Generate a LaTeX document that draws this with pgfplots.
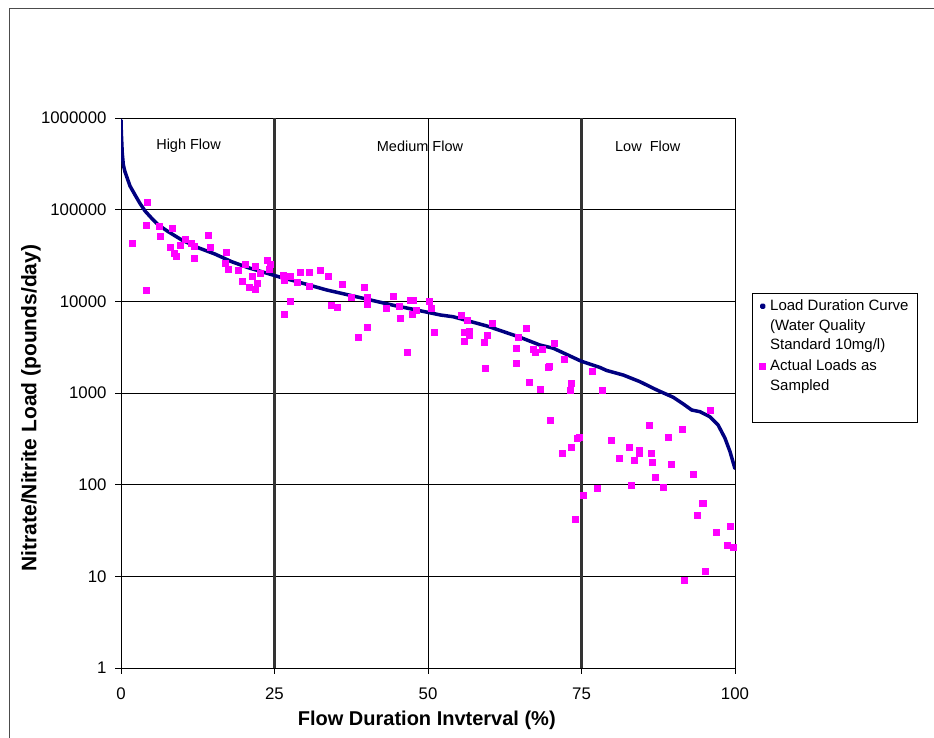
\documentclass[border=0pt]{standalone}
\usepackage{pgfplots}
\pgfplotsset{compat=1.18}
\usepackage{fontspec}
\setmainfont{Liberation Sans}
\definecolor{ldcnavy}{HTML}{000080}
\definecolor{ldcmag}{HTML}{FF00FF}
\begin{document}
\begin{tikzpicture}[x=1pt,y=1pt]
\useasboundingbox (0,0) rectangle (934,738);
\begin{axis}[
  at={(121pt,70pt)}, anchor=south west, scale only axis,
  width=614pt, height=550pt,
  xmin=0, xmax=100, ymin=1, ymax=1000000, ymode=log,
  xtick={0,25,50,75,100}, xticklabels={0,25,50,75,100},
  ytick={1,10,100,1000,10000,100000,1000000},
  yticklabels={1,10,100,1000,10000,100000,1000000},
  xminorticks=false, yminorticks=false,
  /pgf/number format/assume math mode=true,
  ticklabel style={font=\fontsize{16.8}{19}\selectfont},
  xticklabel style={yshift=-10pt},
  yticklabel style={xshift=-5pt},
  tick align=outside, tick pos=left, major tick length=6pt,
  tick style={black, line width=0.8pt},
  axis line style={black, line width=0.8pt},
  xmajorgrids, ymajorgrids,
  grid style={black, line width=0.7pt},
  every axis x label/.style={at={(axis description cs:0.498,-0.0945)}, anchor=center,
     font=\fontsize{20}{24}\selectfont\bfseries},
  every axis y label/.style={at={(axis description cs:-0.1466,0.4727)}, anchor=center, rotate=90,
     font=\fontsize{21}{25}\selectfont\bfseries},
  xlabel={Flow Duration Invterval (\%)},
  ylabel={Nitrate/Nitrite Load (pounds/day)},
  legend cell align=left,
  legend style={at={(axis description cs:1.0277,0.6824)}, anchor=north west,
     draw=black, line width=0.8pt, fill=white,
     font=\fontsize{15}{19.3}\selectfont,
     cells={align=left}, row sep=5pt, column sep=2pt, inner xsep=7pt, inner ysep=5pt},
]
\draw[black!80, line width=2.4pt] (axis cs:25,1) -- (axis cs:25,1000000);
\draw[black!80, line width=2.4pt] (axis cs:75,1) -- (axis cs:75,1000000);
\node[font=\fontsize{14.5}{17}\selectfont] at (axis description cs:0.11,0.949) {High Flow};
\node[font=\fontsize{14.5}{17}\selectfont] at (axis description cs:0.487,0.949) {Medium Flow};
\node[font=\fontsize{14.5}{17}\selectfont] at (axis description cs:0.858,0.949) {Low\ \ Flow};

\addplot[ldcnavy, line width=3.5pt, line join=round, line cap=round,
  legend image code/.code={\fill[ldcnavy] (0pt,19.3pt) circle (1.4pt);}]
coordinates {
(0,950000) (0.05,700000) (0.2,420000) (0.38,307000) (0.65,259000) (0.93,229000)
(1.47,181000) (2.28,145000) (3.09,117000) (3.9,97000) (5.0,80500) (6.1,68000)
(7.7,57500) (9.9,46700) (12.6,38400) (15.3,32800) (18.0,27100) (20.7,23300)
(23.5,20500) (26.2,18100) (28.1,16800) (33.5,13300) (38.9,11000) (44.4,9040)
(48.7,7900) (52.0,7100) (54.1,6790) (59.6,5380) (65.0,4050) (68.2,3340)
(70.4,3080) (74.9,2230) (78.0,1900) (79.1,1760) (81.8,1570) (84.5,1330)
(87.25,1080) (89.95,897) (91.6,757) (92.95,652) (94.3,625) (95.9,551)
(97.25,447) (98.37,321) (99.19,229) (99.9,157) (100,150)
};
\addlegendentry{Load Duration Curve\\(Water Quality\\Standard 10mg/l)}

\addplot[only marks, mark=square*, mark size=3pt,
  mark options={draw=ldcmag, fill=ldcmag},
  legend image code/.code={\fill[ldcmag] (-3pt,6.65pt) rectangle (3pt,12.65pt);}]
coordinates {
(1.79,43000) (4.28,120000) (4.07,68000) (6.14,65200) (6.4,51200) (8.42,63500)
(8.03,38800) (8.68,33400) (8.91,31200) (4.07,13300) (10.47,47800) (9.66,41100)
(11.45,43000) (11.94,39800) (11.89,29200) (14.22,52900) (14.45,38800) (17.21,34500)
(16.94,26000) (17.48,22500) (19.06,21800) (20.2,25100) (21.82,24300) (21.29,18900)
(19.71,16400) (20.9,14300) (21.82,13700) (22.26,15700) (22.75,20400) (23.89,28000)
(24.32,25700) (24.1,22500) (26.38,19500) (27.57,19000) (26.66,17000) (27.57,10000)
(26.6,7280) (28.71,16200) (29.2,21000) (30.57,21000) (30.57,14700) (32.41,21800)
(33.76,18900) (36.1,15300) (34.25,8960) (35.13,8670) (37.41,11100) (39.53,14200)
(40.02,11100) (40.02,9290) (40.02,5250) (38.6,4110) (43.21,8400) (44.41,11400)
(45.33,8740) (45.49,6530) (47.12,10300) (47.67,10300) (47.35,7220) (48.05,8040)
(46.69,2780) (50.16,10000) (50.6,8350) (51.03,4590) (55.42,6970) (56.35,6250)
(60.47,5840) (55.86,4590) (56.79,4740) (56.79,4260) (55.86,3690) (59.56,4260)
(59.12,3570) (59.33,1870) (66.01,5080) (64.61,4080) (64.38,3100) (64.38,2090)
(67.15,3000) (67.38,2780) (68.57,3000) (70.6,3450) (72.23,2330) (69.54,1910)
(69.7,1950) (66.45,1320) (68.29,1110) (73.4,1280) (73.18,1070) (69.92,504)
(74.35,319) (74.7,329) (71.8,223) (73.4,258) (76.82,1750) (75.24,77)
(77.52,91) (73.9,42) (78.45,1070) (79.8,307) (81.22,194) (82.78,258)
(83.55,187) (84.41,237) (84.41,221) (83.06,98) (86.04,440) (86.32,223)
(86.53,174) (86.97,122) (88.36,95) (89.04,331) (89.53,168) (91.37,407)
(93.19,131) (95.93,648) (94.66,62) (94.9,62) (93.86,47) (96.9,30)
(99.19,35) (98.7,22) (99.67,21) (95.07,11.3) (91.8,9.1)
};
\addlegendentry{Actual Loads as\\Sampled}
\addlegendimage{empty legend}
\addlegendentry{\strut}
\end{axis}
\draw[black!70, line width=0.8pt] (9,-20) -- (9,730) -- (960,730);
\end{tikzpicture}
\end{document}
